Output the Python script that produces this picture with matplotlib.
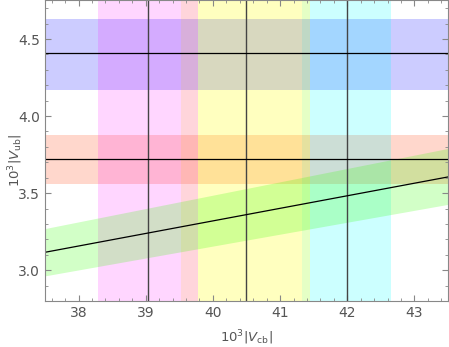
import numpy as np
import matplotlib
matplotlib.use("Agg")
import matplotlib.pyplot as plt
from matplotlib.ticker import MultipleLocator

# vertical bands in 10^3 |Vcb|: (lo, hi, colour)
vcb_bands = [(38.29, 39.52, (1.0, 0.0, 1.0, 0.16)),
             (39.52, 39.78, (1.0, 0.35, 0.45, 0.25)),
             (39.78, 41.33, (1.0, 1.0, 0.0, 0.25)),
             (41.33, 41.44, (0.6, 1.0, 0.1, 0.25)),
             (41.44, 42.65, (0.0, 1.0, 1.0, 0.2))]
vcb_central = [39.04, 40.49, 42.0]

# horizontal bands in 10^3 |Vub|
vub_bands = [(4.17, 4.63, (0.0, 0.0, 1.0, 0.2)),
             (3.56, 3.88, (1.0, 0.3, 0.1, 0.22))]
vub_central = [4.41, 3.72]

# ratio band |Vub|/|Vcb|
ratio_x = [37.5, 43.5]
ratio_mid = [3.116, 3.605]
ratio_lo = [2.963, 3.427]
ratio_hi = [3.27, 3.79]

fig = plt.figure(figsize=(4.49, 3.47), dpi=100)
ax = fig.add_axes([0.1002, 0.1326, 0.8976, 0.866])

for lo, hi, c in vub_bands:
    ax.axhspan(lo, hi, color=c, lw=0)
for lo, hi, c in vcb_bands:
    ax.axvspan(lo, hi, color=c, lw=0)
ax.fill_between(ratio_x, ratio_lo, ratio_hi, color=(0.2, 1.0, 0.0, 0.22), lw=0)

for v in vcb_central:
    ax.axvline(v, color="#444444", lw=1.0)
for v in vub_central:
    ax.axhline(v, color="black", lw=0.9)
ax.plot(ratio_x, ratio_mid, color="black", lw=0.9)

ax.set_xlim(37.5, 43.5)
ax.set_ylim(2.8, 4.75)
ax.xaxis.set_major_locator(MultipleLocator(1))
ax.xaxis.set_minor_locator(MultipleLocator(0.2))
ax.yaxis.set_major_locator(MultipleLocator(0.5))
ax.yaxis.set_minor_locator(MultipleLocator(0.1))
ax.yaxis.set_major_formatter(matplotlib.ticker.FormatStrFormatter("%.1f"))
ax.tick_params(which="both", direction="in", top=True, right=True,
               color="#888888", labelcolor="#555555", labelsize=10)
ax.tick_params(which="major", length=4, width=0.8)
ax.tick_params(which="minor", length=2, width=0.6)
for s in ax.spines.values():
    s.set_color("#888888")

ax.set_xlabel(r"$10^3|V_{\mathrm{cb}}|$", color="#555555", fontsize=9.5)
ax.set_ylabel(r"$10^3|V_{\mathrm{ub}}|$", color="#555555", fontsize=9.5)
ax.xaxis.set_label_coords(0.5, -0.09, transform=ax.transAxes)
ax.yaxis.set_label_coords(-0.072, 0.47, transform=ax.transAxes)
ax.xaxis.label.set_va("top")
ax.yaxis.label.set_va("center")

fig.savefig("out.png", dpi=100)
